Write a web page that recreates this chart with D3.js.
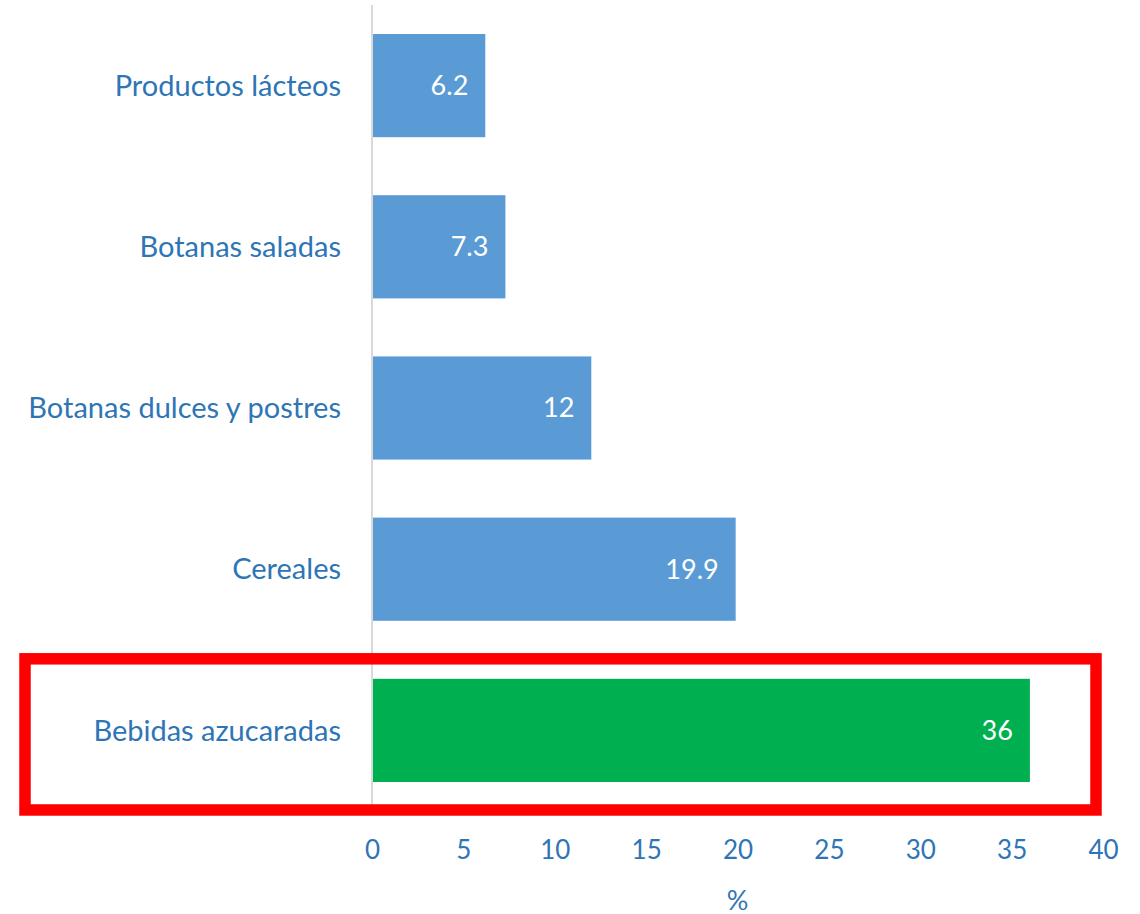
<!DOCTYPE html>
<html lang="es">
<head>
  <meta charset="UTF-8">
  <title>Bebidas azucaradas</title>
  <style>
    body { margin: 0; background: #fff; }
    .cat  { font: 29px Lato, sans-serif; fill: #2E75B6; }
    .tick text { font: 26px Lato, sans-serif; fill: #2E75B6; }
    .val  { font: 27px Lato, sans-serif; fill: #fff; }
    .ttl  { font: 27px Lato, sans-serif; fill: #2E75B6; }
  </style>
</head>
<body>
  <svg id="chart" width="1140" height="914"></svg>

  <script src="https://d3js.org/d3.v7.min.js"></script>
  <script>
    // datos
    const CATS   = ["Productos lácteos", "Botanas saladas", "Botanas dulces y postres", "Cereales", "Bebidas azucaradas"];
    const VALUES = [6.2, 7.3, 12, 19.9, 36];
    const TICKS  = [0, 5, 10, 15, 20, 25, 30, 35, 40];
    const HIGHLIGHT = "Bebidas azucaradas";

    const svg = d3.select('#chart');
    const x = d3.scaleLinear().domain([0, 40]).range([372, 1103]);
    const y = d3.scaleBand().domain(CATS).range([5, 811]).paddingInner(0.36).paddingOuter(0.18);

    // eje x (solo etiquetas)
    const ax = svg.append("g").attr("class", "tick-axis")
      .attr("transform", "translate(0,836)")
      .call(d3.axisBottom(x).tickValues(TICKS).tickSize(0).tickPadding(0));
    ax.select(".domain").remove();
    ax.selectAll("text").attr("dy", "0.9em");

    // barras
    CATS.forEach((c, i) => {
      svg.append("rect")
        .attr("x", x(0)).attr("y", y(c))
        .attr("width", x(VALUES[i]) - x(0)).attr("height", y.bandwidth())
        .attr("fill", c === HIGHLIGHT ? "#00B050" : "#5B9BD5");
      svg.append("text").attr("class", "val")
        .attr("x", x(VALUES[i]) - 17).attr("y", y(c) + y.bandwidth() / 2)
        .attr("dy", "0.35em").attr("text-anchor", "end")
        .text(VALUES[i]);
      svg.append("text").attr("class", "cat")
        .attr("x", 341).attr("y", y(c) + y.bandwidth() / 2)
        .attr("dy", "0.35em").attr("text-anchor", "end")
        .text(c);
    });

    // eje vertical
    svg.append("line")
      .attr("x1", x(0)).attr("x2", x(0)).attr("y1", 5).attr("y2", 805)
      .attr("stroke", "#D9D9D9").attr("stroke-width", 2);

    // recuadro rojo
    const hy = y(HIGHLIGHT);
    svg.append("rect")
      .attr("x", 25).attr("y", hy - 20)
      .attr("width", 1071).attr("height", y.bandwidth() + 48)
      .attr("fill", "none").attr("stroke", "#FF0000").attr("stroke-width", 11.5);

    // título eje
    svg.append("text").attr("class", "ttl")
      .attr("x", (x(0) + x(40)) / 2).attr("y", 910)
      .attr("text-anchor", "middle").text("%");
  </script>
</body>
</html>
